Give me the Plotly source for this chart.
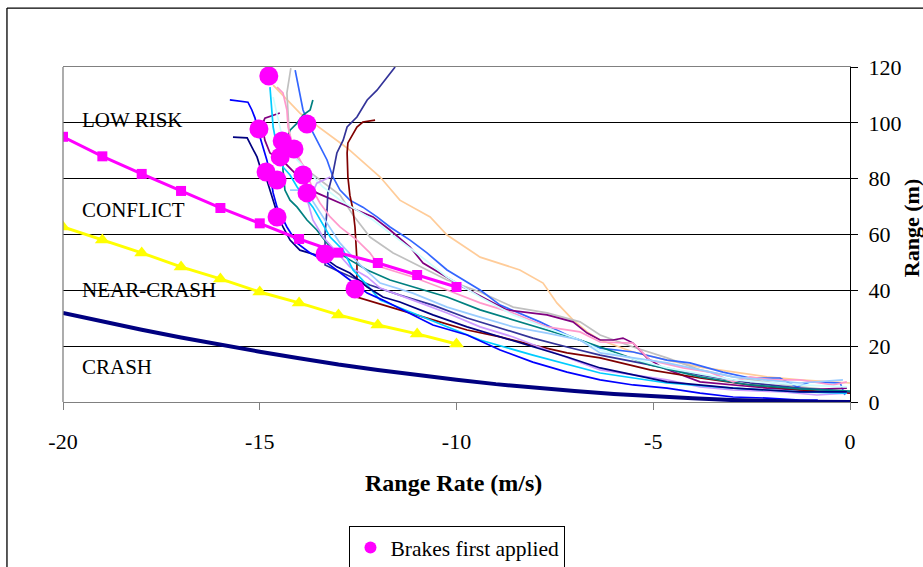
import plotly.graph_objects as go

# ---------------- data ----------------
# boundary curves
bound_x = [-20, -19, -18, -17, -16, -15, -14, -13, -12, -11, -10]
conflict_y = [95.0, 88.0, 81.7, 75.6, 69.5, 64.0, 58.4, 53.5, 49.8, 45.5, 41.2]
nearcrash_y = [62.7, 58.0, 53.4, 48.4, 44.1, 39.4, 35.5, 31.2, 27.6, 24.4, 20.8]
crash_x = [-20, -19, -18, -17, -16, -15, -14, -13, -12, -11, -10, -9, -8, -7, -6, -5, -4, -3, -2, -1, 0]
crash_y = [31.9, 28.8, 25.9, 23.1, 20.4, 18.0, 15.7, 13.4, 11.5, 9.6, 8.0, 6.4, 5.1, 3.9, 2.9, 2.0, 1.3, 0.7, 0.3, 0.1, 0.0]

# brakes first applied
brake_x = [-14.77, -15.02, -13.80, -14.43, -14.13, -14.48, -14.84, -14.56, -13.90, -13.80, -14.56, -13.34, -12.58]
brake_y = [116.8, 97.8, 99.6, 93.5, 90.6, 87.8, 82.4, 79.5, 81.3, 74.9, 66.3, 53.0, 40.5]

# driver approach traces
tan_x = [-14.66, -13.98, -12.78, -11.94, -11.44, -10.67, -10.24, -9.40, -8.39, -7.80, -7.45, -7.04, -6.68, -6.35, -5.51, -4.65, -3.81, -2.97, -2.11, -1.27, -0.43, 0]
tan_y = [113.5, 103.5, 91.0, 80.6, 72.3, 66.3, 59.8, 51.9, 47.3, 42.6, 35.5, 29.4, 25.1, 22.2, 17.9, 15.0, 12.5, 10.7, 9.0, 7.9, 7.2, 6.8]

gray_x = [-14.21, -14.31, -14.26, -14.23, -13.80, -13.47, -12.96, -12.63, -12.20, -11.61, -11.11, -10.24, -9.40, -8.56, -7.70, -6.86, -6.35, -5.51, -4.65, -3.81, -2.97, -2.11, -1.27, -0.43, 0]
gray_y = [119.6, 110.7, 98.5, 90.3, 83.1, 79.5, 74.1, 67.0, 59.1, 53.4, 49.8, 43.7, 39.4, 34.0, 31.9, 28.7, 24.0, 19.7, 15.8, 11.5, 9.0, 7.2, 5.4, 4.3, 3.9]

lblue_x = [-14.10, -13.98, -13.90, -13.72, -13.52, -13.29, -13.14, -12.96, -12.71, -12.38, -12.02, -11.69, -11.18, -10.75, -10.24, -9.40, -8.89, -7.88, -7.19, -6.35, -5.51, -4.65, -4.07, -3.23, -2.54, -1.78, -1.35, -1.02, -0.25, -0.13]
lblue_y = [118.9, 110.7, 104.6, 98.5, 92.8, 86.7, 80.6, 75.9, 72.3, 69.8, 66.3, 62.7, 58.0, 53.4, 47.3, 40.1, 34.7, 28.7, 24.0, 19.3, 17.9, 15.0, 14.0, 10.7, 8.6, 8.6, 5.4, 7.2, 6.8, 2.5]

purple_x = [-14.49, -14.87, -14.94, -14.87, -14.74, -14.36, -13.98, -13.55, -12.96, -12.12, -11.69, -11.18, -10.85, -9.83, -8.72, -7.70, -7.04, -6.68, -6.35, -6.02, -5.77, -5.51, -5.16, -4.75, -3.81, -2.97, -2.11, -1.27, -0.08]
purple_y = [103.5, 101.7, 99.2, 93.8, 89.2, 85.6, 80.2, 74.9, 71.3, 66.3, 61.6, 55.5, 49.8, 41.2, 33.0, 31.2, 28.7, 24.7, 22.2, 22.2, 22.9, 21.1, 15.8, 12.2, 7.2, 6.1, 5.0, 4.3, 5.0]

dred_x = [-12.07, -12.38, -12.53, -12.76, -12.78, -12.76, -12.71, -12.63, -12.58, -12.53, -12.53, -12.12, -11.44, -10.60, -9.73, -8.89, -8.06, -7.19, -6.35, -5.08, -3.81, -2.54, -1.27, 0]
dred_y = [101.0, 100.3, 98.5, 92.8, 89.2, 80.6, 74.1, 68.8, 62.7, 50.9, 37.6, 35.8, 33.0, 29.4, 25.8, 23.3, 20.4, 17.6, 15.8, 11.5, 8.6, 6.1, 4.3, 3.2]

indigo_x = [-11.56, -11.77, -12.02, -12.27, -12.53, -12.78, -12.88, -13.04, -13.14, -13.27, -13.29, -13.34, -13.34, -12.96, -12.20, -11.44, -10.60, -9.73, -8.89, -8.06, -7.19, -6.35, -5.08, -3.81, -2.54, -1.27, 0]
indigo_y = [120.0, 116.4, 111.7, 108.2, 102.1, 98.5, 93.8, 89.2, 82.0, 74.9, 68.8, 60.5, 49.1, 46.6, 41.9, 38.3, 34.7, 30.1, 26.5, 22.9, 19.7, 16.8, 13.3, 9.7, 6.8, 5.0, 3.6]

teal_x = [-13.65, -13.67, -13.72, -13.90, -14.05, -14.23, -14.31, -14.41, -14.41, -14.36, -14.23, -14.05, -13.80, -13.55, -13.21, -12.71, -12.27, -11.69, -11.11, -10.24, -9.40, -8.56, -7.70, -6.86, -6.35, -5.08, -3.81, -2.54, -1.27, 0]
teal_y = [108.2, 107.1, 104.6, 102.8, 99.9, 97.4, 93.8, 87.8, 83.1, 75.9, 72.3, 69.8, 65.2, 61.6, 55.5, 50.9, 47.3, 43.7, 41.2, 37.6, 33.0, 29.4, 25.8, 22.2, 19.7, 13.3, 9.0, 6.1, 4.7, 3.9]

pink_x = [-14.56, -14.41, -14.31, -14.28, -14.15, -13.98, -13.80, -13.65, -13.47, -13.21, -12.96, -12.53, -12.20, -11.94, -11.11, -10.24, -9.40, -8.56, -7.70, -6.86, -6.35, -5.51, -5.08, -4.24, -3.56, -2.97, -2.54, -1.96, -1.27, -0.43, -0.08]
pink_y = [112.8, 110.7, 104.6, 98.5, 91.3, 86.7, 82.0, 75.9, 71.3, 66.3, 62.7, 58.0, 53.4, 48.4, 44.8, 40.1, 35.5, 31.9, 26.9, 25.1, 21.5, 21.1, 15.0, 12.2, 10.7, 7.2, 9.0, 7.9, 7.9, 6.1, 7.2]

lcyan_x = [-14.66, -14.49, -14.41, -14.05, -13.80, -13.39, -12.96, -12.53, -12.12, -11.69, -11.11, -10.24, -9.40, -8.56, -7.70, -6.86, -6.35, -4.65, -2.97, -1.27, -0.08]
lcyan_y = [109.2, 98.5, 93.8, 86.7, 83.1, 77.0, 72.3, 68.8, 65.2, 60.5, 54.4, 44.8, 37.6, 31.2, 26.5, 22.2, 18.6, 12.2, 7.9, 6.1, 5.4]

cyan_x = [-14.74, -14.69, -14.66, -14.56, -14.41, -14.23, -14.05, -13.65, -13.42, -13.21, -12.88, -12.63, -12.27, -11.94, -11.11, -10.24, -9.40, -8.06, -6.35, -4.65, -2.97, -1.27, -0.08]
cyan_y = [112.8, 104.6, 98.5, 91.3, 84.2, 81.3, 77.0, 69.8, 64.1, 59.1, 54.4, 47.3, 41.9, 36.5, 31.9, 26.9, 22.2, 16.8, 10.4, 6.8, 5.0, 3.6, 3.2]

lav_x = [-13.21, -13.55, -13.77, -13.65, -13.39, -13.04, -12.71, -12.27, -11.94, -11.11, -10.24, -9.40, -8.56, -7.70, -6.86, -6.35, -4.65, -3.81, -2.97, -1.70, -0.84, -0.08]
lav_y = [80.6, 78.4, 71.3, 65.2, 59.1, 53.4, 48.4, 44.8, 40.8, 36.5, 31.9, 26.9, 23.3, 18.6, 14.3, 11.5, 7.9, 5.4, 4.3, 3.6, 2.5, 3.2]

pblue_x = [-14.23, -13.98, -13.72, -13.55, -12.96, -12.45, -11.94, -11.11, -10.24, -9.40, -8.56, -7.70, -6.86, -6.35, -4.65, -2.97, -1.27, -0.18]
pblue_y = [75.9, 75.9, 73.4, 69.8, 56.9, 49.1, 42.6, 39.0, 34.0, 30.4, 26.9, 24.7, 22.2, 17.6, 14.0, 9.0, 6.8, 7.9]

blue_x = [-15.76, -15.30, -15.20, -15.12, -15.07, -14.99, -14.92, -14.82, -14.74, -14.66, -14.56, -14.31, -14.05, -13.72, -13.39, -13.04, -12.71, -12.27, -11.87, -10.60, -9.73, -8.89, -8.06, -7.19, -6.35, -5.51, -4.65, -3.81, -2.97, -2.11, -1.27, -0.84, -0.84]
blue_y = [108.2, 107.4, 104.6, 101.7, 98.5, 94.9, 91.3, 86.7, 82.0, 74.9, 69.8, 62.7, 56.9, 53.4, 50.9, 47.3, 43.7, 39.0, 36.5, 27.6, 24.0, 18.6, 14.3, 10.7, 7.9, 6.1, 5.0, 3.2, 1.8, 1.4, 0.7, 0.7, -3.0]

navy_x = [-15.68, -15.32, -15.20, -15.07, -14.99, -14.82, -14.66, -14.56, -14.41, -14.23, -13.98, -13.39, -13.04, -12.71, -12.27, -11.87, -11.44, -10.60, -9.73, -8.89, -8.06, -7.19, -6.35, -4.65, -2.97, -1.27, -0.08]
navy_y = [94.9, 94.6, 91.3, 87.8, 84.2, 79.5, 72.3, 67.7, 62.7, 58.0, 54.4, 51.9, 48.4, 46.2, 41.2, 37.6, 35.8, 31.2, 26.9, 23.3, 19.7, 16.1, 12.2, 7.2, 5.0, 3.6, 3.6]

x_tickvals = [-20, -15, -10, -5, 0]
x_ticktext = ["-20", "-15", "-10", "-5", "0"]
y_tickvals = [0, 20, 40, 60, 80, 100, 120]

zone_labels = ["LOW RISK", "CONFLICT", "NEAR-CRASH", "CRASH"]
zone_label_y = [101.0, 68.8, 40.1, 12.5]

# ---------------- figure ----------------
FONT = "Liberation Serif, Times New Roman, serif"
fig = go.Figure()

driver_traces = [
    (tan_x, tan_y, "#FFCC99"),
    (gray_x, gray_y, "#C0C0C0"),
    (lblue_x, lblue_y, "#3366FF"),
    (purple_x, purple_y, "#800080"),
    (dred_x, dred_y, "#800000"),
    (indigo_x, indigo_y, "#333399"),
    (teal_x, teal_y, "#008080"),
    (pink_x, pink_y, "#FF99CC"),
    (lcyan_x, lcyan_y, "#CCFFFF"),
    (pblue_x, pblue_y, "#99CCFF"),
    (lav_x, lav_y, "#CC99FF"),
    (cyan_x, cyan_y, "#00CCFF"),
    (navy_x, navy_y, "#000080"),
    (blue_x, blue_y, "#0000FF"),
]
for xs, ys, col in driver_traces:
    fig.add_trace(go.Scatter(x=xs, y=ys, mode="lines", line=dict(color=col, width=1.7),
                             showlegend=False, hoverinfo="skip"))

fig.add_trace(go.Scatter(x=crash_x, y=crash_y, mode="lines",
                         line=dict(color="#000080", width=4), showlegend=False))
fig.add_trace(go.Scatter(x=bound_x, y=conflict_y, mode="lines+markers",
                         line=dict(color="#FF00FF", width=3),
                         marker=dict(symbol="square", size=10, color="#FF00FF"),
                         showlegend=False))
fig.add_trace(go.Scatter(x=bound_x, y=nearcrash_y, mode="lines+markers",
                         line=dict(color="#FFFF00", width=3),
                         marker=dict(symbol="triangle-up", size=13, color="#FFFF00"),
                         showlegend=False))
fig.add_trace(go.Scatter(x=brake_x, y=brake_y, mode="markers", name="Brakes first applied",
                         marker=dict(symbol="circle", size=19, color="#FF00FF"),
                         showlegend=True))

for txt, yy in zip(zone_labels, zone_label_y):
    fig.add_annotation(x=-19.57, y=yy, xref="x", yref="y", text=txt, showarrow=False,
                       xanchor="left", yanchor="middle",
                       font=dict(family=FONT, size=21, color="black"))

fig.add_annotation(x=0.4968, y=-0.2418, xref="paper", yref="paper", text="<b>Range Rate (m/s)</b>",
                   showarrow=False, xanchor="center", yanchor="middle",
                   font=dict(family=FONT, size=24, color="black"))
fig.add_annotation(x=1.0775, y=0.519, xref="paper", yref="paper", text="<b>Range (m)</b>",
                   showarrow=False, xanchor="center", yanchor="middle", textangle=-90,
                   font=dict(family=FONT, size=22, color="black"))

# outer chart border (top and left visible) and left plot border
fig.add_shape(type="line", xref="paper", yref="paper", x0=-0.0712, x1=1.2, y0=1.176, y1=1.176,
              line=dict(color="black", width=1.3))
fig.add_shape(type="line", xref="paper", yref="paper", x0=-0.0712, x1=-0.0712, y0=1.176, y1=-0.6,
              line=dict(color="black", width=1.3))
fig.add_shape(type="line", xref="paper", yref="paper", x0=0, x1=0, y0=0, y1=1,
              line=dict(color="#808080", width=1.3))

fig.update_layout(
    width=923, height=567,
    margin=dict(l=63, r=73, t=67, b=165, autoexpand=False),
    paper_bgcolor="white", plot_bgcolor="white",
    font=dict(family=FONT, size=22, color="black"),
    xaxis=dict(range=[-20, 0], tickvals=x_tickvals, ticktext=x_ticktext,
               ticks="outside", ticklen=7, tickcolor="#808080", tickwidth=1.3,
               showline=True, linecolor="#808080", linewidth=1.3, mirror=True,
               showgrid=False, zeroline=False, ticklabelstandoff=12,
               tickfont=dict(family=FONT, size=22, color="black")),
    yaxis=dict(range=[0, 120], tickvals=y_tickvals, side="right",
               ticks="outside", ticklen=7, tickcolor="black", tickwidth=1,
               showline=True, linecolor="black", linewidth=1.3,
               showgrid=True, gridcolor="black", gridwidth=1, zeroline=False,
               ticklabelstandoff=6,
               tickfont=dict(family=FONT, size=22, color="black")),
    legend=dict(orientation="h", x=0.364, xanchor="left", y=-0.37, yanchor="top",
                bordercolor="black", borderwidth=1, bgcolor="white",
                itemsizing="constant", font=dict(family=FONT, size=21.5, color="black")),
    showlegend=True,
)

fig.write_html("out.html")
